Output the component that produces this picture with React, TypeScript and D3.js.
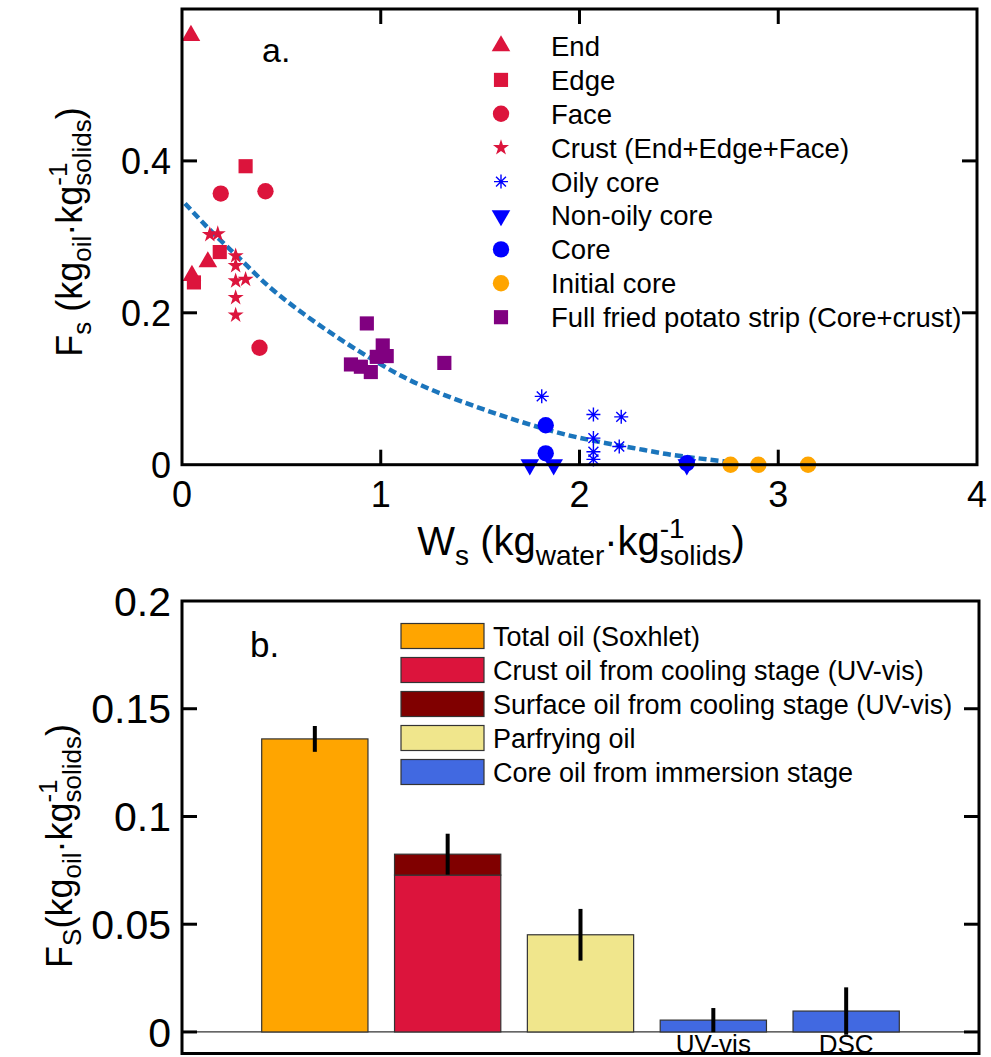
import * as d3 from "d3";

// ---- panel a data ----
const endW = [0.045, 0.05, 0.13];
const endF = [0.565, 0.249, 0.267];
const edgeW = [0.06, 0.19, 0.32];
const edgeF = [0.24, 0.28, 0.393];
const faceW = [0.195, 0.42, 0.39];
const faceF = [0.357, 0.36, 0.154];
const crustW = [0.14, 0.18, 0.27, 0.27, 0.27, 0.32, 0.27, 0.27];
const crustF = [0.303, 0.304, 0.275, 0.262, 0.242, 0.244, 0.22, 0.197];
const oilyW = [1.81, 2.07, 2.21, 2.07, 2.2, 2.07, 2.07];
const oilyF = [0.09, 0.066, 0.063, 0.035, 0.024, 0.017, 0.007];
const nonOilyW = [1.75, 1.87, 2.54];
const nonOilyF = [0, 0, 0];
const coreW = [1.83, 1.83, 2.54];
const coreF = [0.052, 0.015, 0.002];
const initialW = [2.76, 2.9, 3.15];
const initialF = [0, 0, 0];
const fullW = [0.85, 0.9, 0.93, 0.95, 0.98, 1.01, 1.03, 1.32];
const fullF = [0.132, 0.129, 0.186, 0.122, 0.142, 0.157, 0.143, 0.134];

const fitW = [0.015, 0.16, 0.28, 0.44, 0.61, 0.78, 0.95, 1.11, 1.28, 1.43, 1.7, 1.94, 2.1, 2.27, 2.44, 2.61, 2.78];
const fitF = [0.344, 0.304, 0.274, 0.234, 0.199, 0.168, 0.14, 0.116, 0.096, 0.081, 0.057, 0.039, 0.03, 0.022, 0.014, 0.008, 0.003];

const xTicksA = [0, 1, 2, 3, 4];
const yTicksA = [0, 0.2, 0.4];

// ---- panel b data ----
const barNames = ["Total oil", "Crust oil", "Parfrying oil", "Core UV-vis", "Core DSC"];
const barBase = [0.136, 0.0728, 0.0451, 0.0055, 0.0097];
const barTop = [0, 0.0097, 0, 0, 0]; // surface oil stacked on crust
const barErr = [0.006, 0.0095, 0.012, 0.0056, 0.011];
const barLabels = ["", "", "", "UV-vis", "DSC"];
const yTicksB = [0, 0.05, 0.1, 0.15, 0.2];
const yTickLabelsB = ["0", "0.05", "0.1", "0.15", "0.2"];

const legendB = [
  "Total oil (Soxhlet)",
  "Crust oil from cooling stage (UV-vis)",
  "Surface oil from cooling stage (UV-vis)",
  "Parfrying oil",
  "Core oil from immersion stage",
];
const legendBColors = ["#FFA500", "#DC143C", "#800000", "#F0E68C", "#4169E1"];

const FONT = "'Liberation Sans', Arial, sans-serif";
const crimson = "#DC143C";

const seriesA = [
  { name: "End", W: endW, F: endF, shape: "tri", color: crimson },
  { name: "Edge", W: edgeW, F: edgeF, shape: "sq", color: crimson },
  { name: "Face", W: faceW, F: faceF, shape: "circ", color: crimson },
  { name: "Crust (End+Edge+Face)", W: crustW, F: crustF, shape: "star", color: crimson },
  { name: "Oily core", W: oilyW, F: oilyF, shape: "ast", color: "#0000FF" },
  { name: "Non-oily core", W: nonOilyW, F: nonOilyF, shape: "down", color: "#0000FF" },
  { name: "Core", W: coreW, F: coreF, shape: "circ", color: "#0000FF" },
  { name: "Initial core", W: initialW, F: initialF, shape: "circ", color: "#FFA500" },
  { name: "Full fried potato strip (Core+crust)", W: fullW, F: fullF, shape: "sq", color: "#800080" },
];

function Marker({ shape, color, x, y }: { shape: string; color: string; x: number; y: number }) {
  if (shape === "ast") {
    const r = 7;
    const d = [0, 45, 90, 135]
      .map((a) => {
        const c = Math.cos((a * Math.PI) / 180) * r;
        const s = Math.sin((a * Math.PI) / 180) * r;
        return `M${-c},${-s}L${c},${s}`;
      })
      .join("");
    return <path d={d} transform={`translate(${x},${y})`} stroke={color} strokeWidth={1.4} fill="none" />;
  }
  const types: Record<string, [d3.SymbolType, number]> = {
    tri: [d3.symbolTriangle, 150],
    down: [d3.symbolTriangle, 150],
    sq: [d3.symbolSquare, 200],
    circ: [d3.symbolCircle, 210],
    star: [d3.symbolStar, 80],
  };
  const [t, size] = types[shape];
  const d = d3.symbol().type(t).size(size)() || "";
  const rot = shape === "down" ? " rotate(180)" : "";
  return <path d={d} transform={`translate(${x},${y})${rot}`} fill={color} />;
}

function PanelA() {
  const left = 182, right = 977, top = 9, bottom = 464.7;
  const x = d3.scaleLinear().domain([0, 4]).range([left, right]);
  const y = d3.scaleLinear().domain([0, 0.6]).range([bottom, top]);
  const fit = d3
    .line<number>()
    .x((_, i) => x(fitW[i]))
    .y((d) => y(d))
    .curve(d3.curveMonotoneX);
  const tl = 15;
  return (
    <g>
      {/* fit curve */}
      <path d={fit(fitF) || ""} fill="none" stroke="#1B75BC" strokeWidth={4.5} strokeDasharray="8,4" />
      {seriesA.map((s) => (
        <g key={s.name}>
          {s.W.map((w, i) => (
            <Marker key={i} shape={s.shape} color={s.color} x={x(w)} y={y(s.F[i])} />
          ))}
        </g>
      ))}
      {/* box */}
      <rect x={left} y={top} width={right - left} height={bottom - top} fill="none" stroke="#000" strokeWidth={3} />
      {xTicksA.slice(1, -1).map((t) => (
        <g key={t}>
          <line x1={x(t)} x2={x(t)} y1={bottom} y2={bottom - tl} stroke="#000" strokeWidth={3} />
          <line x1={x(t)} x2={x(t)} y1={top} y2={top + tl} stroke="#000" strokeWidth={3} />
        </g>
      ))}
      {yTicksA.slice(1).map((t) => (
        <g key={t}>
          <line x1={left} x2={left + tl} y1={y(t)} y2={y(t)} stroke="#000" strokeWidth={3} />
          <line x1={right} x2={right - tl} y1={y(t)} y2={y(t)} stroke="#000" strokeWidth={3} />
        </g>
      ))}
      {xTicksA.map((t) => (
        <text key={t} x={x(t)} y={507} textAnchor="middle" fontSize={36}>
          {t}
        </text>
      ))}
      {yTicksA.map((t) => (
        <text key={t} x={171} y={y(t)} dy="0.36em" textAnchor="end" fontSize={36}>
          {t === 0 ? "0" : t.toFixed(1)}
        </text>
      ))}
      <text x={262} y={62} fontSize={34}>a.</text>
      {/* legend */}
      {seriesA.map((s, i) => {
        const ly = 46 + i * 33.9;
        return (
          <g key={s.name}>
            <Marker shape={s.shape} color={s.color} x={501} y={ly} />
            <text x={551} y={ly} dy="0.36em" fontSize={27.5}>
              {s.name}
            </text>
          </g>
        );
      })}
      {/* axis labels */}
      <text x={581} y={555} textAnchor="middle" fontSize={40}>
        W<tspan fontSize={28} dy={10}>s</tspan>
        <tspan dy={-10}> (kg</tspan>
        <tspan fontSize={28} dy={10}>water</tspan>
        <tspan dy={-10}>·kg</tspan>
        <tspan fontSize={28} dy={-17}>-1</tspan>
        <tspan fontSize={28} dx="-0.889em" dy={27}>solids</tspan>
        <tspan dy={-10}>)</tspan>
      </text>
      <text transform="translate(82,232) rotate(-90)" textAnchor="middle" fontSize={36}>
        F<tspan fontSize={26} dy={9}>s</tspan>
        <tspan dy={-9}> (kg</tspan>
        <tspan fontSize={26} dy={9}>oil</tspan>
        <tspan dy={-9}>·kg</tspan>
        <tspan fontSize={26} dy={-15}>-1</tspan>
        <tspan fontSize={26} dx="-0.889em" dy={24}>solids</tspan>
        <tspan dy={-9}>)</tspan>
      </text>
    </g>
  );
}

function PanelB() {
  const left = 182, right = 979, top = 601, bottom = 1053.5;
  const x = d3.scaleBand().domain(barNames).range([left, right]).paddingInner(0.2).paddingOuter(0.6);
  const y = d3.scaleLinear().domain([-0.01, 0.2]).range([bottom, top]);
  const bw = x.bandwidth();
  const tl = 15;
  const fills = ["#FFA500", "#DC143C", "#F0E68C", "#4169E1", "#4169E1"];
  return (
    <g>
      <line x1={left} x2={right} y1={y(0)} y2={y(0)} stroke="#333" strokeWidth={1.2} />
      {barNames.map((n, i) => {
        const x0 = x(n) || 0;
        const total = barBase[i] + barTop[i];
        return (
          <g key={n}>
            <rect x={x0} y={y(barBase[i])} width={bw} height={y(0) - y(barBase[i])} fill={fills[i]} stroke="#333" strokeWidth={1.2} />
            {barTop[i] > 0 && (
              <rect x={x0} y={y(total)} width={bw} height={y(barBase[i]) - y(total)} fill="#800000" stroke="#333" strokeWidth={1.2} />
            )}
            <line x1={x0 + bw / 2} x2={x0 + bw / 2} y1={y(total - barErr[i])} y2={y(total + barErr[i])} stroke="#000" strokeWidth={4} />
            {barLabels[i] && (
              <text x={x0 + bw / 2} y={1053} textAnchor="middle" fontSize={26}>
                {barLabels[i]}
              </text>
            )}
          </g>
        );
      })}
      <rect x={left} y={top} width={right - left} height={bottom - top} fill="none" stroke="#000" strokeWidth={3} />
      {yTicksB.slice(0, -1).map((t) => (
        <g key={t}>
          <line x1={left} x2={left + tl} y1={y(t)} y2={y(t)} stroke="#000" strokeWidth={3} />
          <line x1={right} x2={right - tl} y1={y(t)} y2={y(t)} stroke="#000" strokeWidth={3} />
        </g>
      ))}
      {yTicksB.map((t, i) => (
        <text key={t} x={171} y={y(t)} dy="0.36em" textAnchor="end" fontSize={41}>
          {yTickLabelsB[i]}
        </text>
      ))}
      <text x={250} y={657} fontSize={35}>b.</text>
      {legendB.map((l, i) => {
        const ly = 636 + i * 34;
        return (
          <g key={l}>
            <rect x={401} y={ly - 12.5} width={83} height={25} fill={legendBColors[i]} stroke="#333" strokeWidth={1.2} />
            <text x={493} y={ly} dy="0.36em" fontSize={27}>
              {l}
            </text>
          </g>
        );
      })}
      <text transform="translate(72,846) rotate(-90)" textAnchor="middle" fontSize={36}>
        F<tspan fontSize={26} dy={9}>S</tspan>
        <tspan dy={-9}>(kg</tspan>
        <tspan fontSize={26} dy={9}>oil</tspan>
        <tspan dy={-9}>·kg</tspan>
        <tspan fontSize={26} dy={-15}>-1</tspan>
        <tspan fontSize={26} dx="-0.889em" dy={24}>solids</tspan>
        <tspan dy={-9}>)</tspan>
      </text>
    </g>
  );
}

export default function App() {
  return (
    <svg
      width={991}
      height={1057}
      style={{ position: "absolute", left: 0, top: 0, background: "#fff" }}
      fontFamily={FONT}
    >
      <PanelA />
      <PanelB />
    </svg>
  );
}
